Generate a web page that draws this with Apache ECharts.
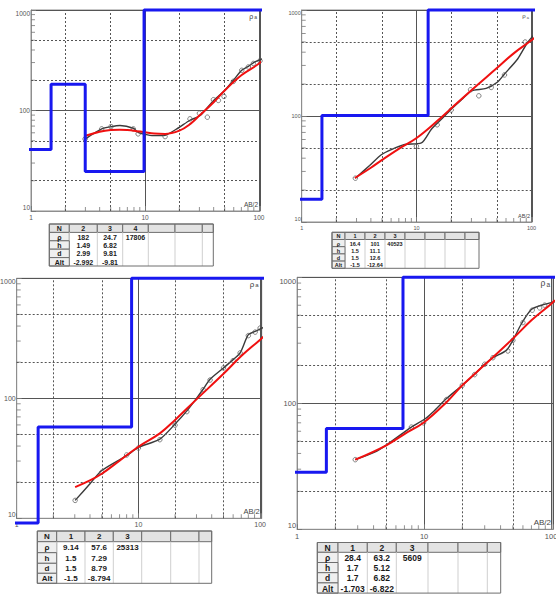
<!DOCTYPE html>
<html><head><meta charset="utf-8">
<script src="https://cdn.jsdelivr.net/npm/echarts@6/dist/echarts.min.js"></script>
<style>html,body{margin:0;padding:0;background:#fff}#c{width:556px;height:594px}</style>
</head><body><div id="c"></div>
<script>
// ---------- tick / grid values ----------
const xTickValues = [1, 10, 100];
const yTickValues = [10, 100, 1000];
const minorXTicks = [2,3,4,5,6,7,8,9,20,30,40,50,60,70,80,90];
const minorYTicks = [20,30,40,50,60,70,80,90,200,300,400,500,600,700,800,900];
const dashedX = [2, 5, 20, 50];
const dashedY = [20, 50, 200, 500];

// ---------- panel A (top left) ----------
const modelA = [[0.7,41],[1.5,41],[1.5,182],[2.99,182],[2.99,24.7],[9.81,24.7],[9.81,1000],[125,1000]];
const fitA = [[3,56],[4,61.5],[5,64],[6,64.5],[7,64],[8,63],[10,60.7],[12,59],[15,58.5],[20,63],[25,73.6],[30,89],[40,121],[50,158],[70,224],[100,293],[113,341]];
const obsA = [[2.98,52],[4.17,65.6],[5.03,69],[6.03,70.8],[7.9,66.6],[8.7,60.7],[10.3,57.5],[11.5,56.2],[14.5,56.2],[19,65.6],[24.8,80],[30.4,89],[40,126],[50,158],[59.6,200],[70.5,251],[80.6,275],[91.9,304],[109,329]];
const circlesA = [[2.98,52.1],[4.17,65.6],[5.03,69.2],[7.9,65.6],[8.7,58.5],[15,55],[24.8,82.6],[30,94],[35.2,85.8],[39.8,128],[44,126],[49.3,138],[59.6,195],[70.5,251],[80.6,271],[89.2,294],[102,312]];
const tableAHead = ['N','2','3','4'];
const tableARho = ['ρ','182','24.7','17806'];
const tableAH = ['h','1.49','6.82'];
const tableAD = ['d','2.99','9.81'];
const tableAAlt = ['Alt','-2.992','-9.81'];

// ---------- panel B (top right) ----------
const modelB = [[0.835,16.4],[1.5,16.4],[1.5,101],[12.6,101],[12.6,1000],[112,1000]];
const fitB = [[2.9,26],[4,32.5],[5,38.5],[7,49],[10,62],[15,89],[20,118],[30,175],[50,283],[70,390],[100,518],[113,578]];
const obsB = [[2.93,25.9],[3.9,34.1],[4.93,43.1],[6.02,48.2],[7.87,53.8],[11,55.7],[13.4,74.7],[16.4,93],[20,116],[25.3,146],[29.9,173],[40.3,182],[50.3,208],[58.2,249],[76,347],[93,499],[113,631]];
const circlesB = [[2.93,25.9],[9.95,51.8],[15.1,82.6],[20,114],[29.5,177],[34.8,155],[44.6,186],[58.2,244],[88,499]];
const tableBHead = ['N','1','2','3'];
const tableBRho = ['ρ','16.4','101','40523'];
const tableBH = ['h','1.5','11.1'];
const tableBD = ['d','1.5','12.6'];
const tableBAlt = ['Alt','-1.5','-12.64'];

// ---------- panel C (bottom left) ----------
const modelC = [[0.83,9.14],[1.5,9.14],[1.5,57.6],[8.79,57.6],[8.79,1000],[146,1000]];
const fitC = [[3.02,18.2],[4,20.7],[5,23.5],[7,30.2],[10,39.5],[15,51],[20,66],[30,98],[50,160],[70,225],[100,308],[113,345]];
const obsC = [[3.02,14.1],[4,19.4],[5,25],[8,33.3],[10,39],[15,45.7],[20,61],[25,78.5],[30,100],[34,119],[38.8,144],[50,179],[60,210],[68.5,239],[80,339],[91,361],[113,403]];
const circlesC = [[3.02,14.1],[5,24.2],[8,33.7],[10,38.5],[15,45.2],[20,59.7],[25,77.4],[34,118],[38.8,142],[50,179],[60,206],[68.5,239],[80,333],[91,356],[100,385]];
const tableCHead = ['N','1','2','3'];
const tableCRho = ['ρ','9.14','57.6','25313'];
const tableCH = ['h','1.5','7.29'];
const tableCD = ['d','1.5','8.79'];
const tableCAlt = ['Alt','-1.5','-8.794'];

// ---------- panel D (bottom right) ----------
const modelD = [[0.73,28.4],[1.7,28.4],[1.7,63.2],[6.82,63.2],[6.82,1000],[120,1000]];
const fitD = [[2.87,35.7],[5,46.2],[7,57],[10,70.8],[15,102],[20,139],[30,202],[50,326],[70,456],[100,615],[107,658]];
const obsD = [[2.87,35.7],[4.08,40.9],[5.2,47.7],[7.94,64.7],[10.2,75.4],[12.1,87.8],[15,109],[20,139],[25,170],[30,204],[34.8,230],[44.4,263],[50,316],[58.4,428],[69.8,555],[83.8,600],[107,638]];
const circlesD = [[2.87,35.7],[7.94,64.7],[9.9,70],[15,107],[20,139],[25,169],[30,204],[34.8,230],[45.7,260],[50,316],[60,437],[71,548],[81.3,572],[89,601]];
const tableDHead = ['N','1','2','3'];
const tableDRho = ['ρ','28.4','63.2','5609'];
const tableDH = ['h','1.7','5.12'];
const tableDD = ['d','1.7','6.82'];
const tableDAlt = ['Alt','-1.703','-6.822'];

// ---------- layout (positions / sizes only) ----------
const layouts = [
  {left:31,    top:10,    width:229,   height:201, xMax:102,   font:6.5, tagFont:6.5},
  {left:301.7, top:10,    width:230.3, height:212, xMax:101,   font:5.5, tagFont:5.5},
  {left:16.7,  top:278.3, width:245,   height:240, xMax:103,   font:7,   tagFont:7.5},
  {left:297.1, top:277.3, width:255.9, height:252, xMax:103.5, font:7.5, tagFont:8}
];
const tableLayouts = [
  {cols:[49.3,69.3,97.3,122.7,148.3,175,202.3,213.3], rows:[224,232.4,240.8,249.2,257.6,266], font:7},
  {cols:[332,345,365,385,405,425,445,465,479], rows:[232.3,239.5,246.7,253.9,261.1,268.3], font:5.5},
  {cols:[37.3,56.7,85,113.3,141.7,170.7,199,211.7], rows:[531,541.7,552.7,563.3,573.3,583.3], font:8},
  {cols:[317.3,338,367.3,396.3,428,458,487.3,500.7], rows:[542.5,552.3,562.5,572.7,582.9,593.1], font:8.5}
];

const panels = [
  {model:modelA, fit:fitA, obs:obsA, pts:circlesA, table:[tableAHead,tableARho,tableAH,tableAD,tableAAlt]},
  {model:modelB, fit:fitB, obs:obsB, pts:circlesB, table:[tableBHead,tableBRho,tableBH,tableBD,tableBAlt]},
  {model:modelC, fit:fitC, obs:obsC, pts:circlesC, table:[tableCHead,tableCRho,tableCH,tableCD,tableCAlt]},
  {model:modelD, fit:fitD, obs:obsD, pts:circlesD, table:[tableDHead,tableDRho,tableDH,tableDD,tableDAlt]}
];

const FONT = '"Liberation Sans", "DejaVu Sans", sans-serif';
const labelFmt = vals => v => {
  const m = vals.find(t => Math.abs(Math.log10(v) - Math.log10(t)) < 0.001);
  return m === undefined ? '' : String(m);
};

const grid = [], xAxis = [], yAxis = [], series = [], graphic = [];

panels.forEach((p, i) => {
  const L = layouts[i];
  grid.push({left:L.left, top:L.top, width:L.width, height:L.height, show:true,
    borderColor:'#8e8e8e', borderWidth:1, backgroundColor:'#fff', containLabel:false, outerBoundsMode:'none'});
  xAxis.push({type:'log', logBase:10, gridIndex:i, min:1, max:L.xMax,
    axisLine:{show:true, lineStyle:{color:'#8e8e8e'}},
    axisTick:{show:true, inside:true, length:5, lineStyle:{color:'#777'}},
    axisLabel:{fontSize:L.font, color:'#555', margin:3, fontFamily:FONT, formatter:labelFmt(xTickValues)},
    splitLine:{show:true, lineStyle:{color:'#555', width:1}}});
  yAxis.push({type:'log', logBase:10, gridIndex:i, min:10, max:1000,
    axisLine:{show:true, lineStyle:{color:'#8e8e8e'}},
    axisTick:{show:true, inside:true, length:5, lineStyle:{color:'#777'}},
    axisLabel:{fontSize:L.font, color:'#555', margin:1, fontFamily:FONT, formatter:labelFmt(yTickValues),
      verticalAlignMinLabel:'bottom', verticalAlignMaxLabel:'top'},
    splitLine:{show:true, lineStyle:{color:'#555', width:1}}});

  const dashStyle = {color:'#555', width:1, type:[2,2]};
  // minor ticks on bottom axis + vertical dashed grid
  series.push({type:'scatter', xAxisIndex:i, yAxisIndex:i, silent:true, clip:false, z:1,
    data: minorXTicks.filter(v => v < L.xMax).map(v => [v, 10]),
    symbol:'rect', symbolSize:[1,4], symbolOffset:[0,-2], itemStyle:{color:'#777'},
    markLine:{silent:true, symbol:'none', label:{show:false}, lineStyle:dashStyle, animation:false,
      data: dashedX.map(v => ({xAxis:v}))}});
  // minor ticks on left axis + horizontal dashed grid
  series.push({type:'scatter', xAxisIndex:i, yAxisIndex:i, silent:true, clip:false, z:1,
    data: minorYTicks.map(v => [1, v]),
    symbol:'rect', symbolSize:[4,1], symbolOffset:[2,0], itemStyle:{color:'#777'},
    markLine:{silent:true, symbol:'none', label:{show:false}, lineStyle:dashStyle, animation:false,
      data: dashedY.map(v => ({yAxis:v}))}});
  // measured curve
  series.push({type:'line', xAxisIndex:i, yAxisIndex:i, data:p.obs, showSymbol:false, clip:false, z:3,
    smooth:0.25, lineStyle:{color:'#3a3a3a', width:1.4}});
  // measured points
  series.push({type:'scatter', xAxisIndex:i, yAxisIndex:i, data:p.pts, clip:false, z:4,
    symbol:'circle', symbolSize:4.5, itemStyle:{color:'rgba(255,255,255,0)', borderColor:'#555', borderWidth:0.9}});
  // fitted curve
  series.push({type:'line', xAxisIndex:i, yAxisIndex:i, data:p.fit, showSymbol:false, clip:false, z:5,
    smooth:0.4, lineStyle:{color:'#f01010', width:2}});
  // layer model
  series.push({type:'line', xAxisIndex:i, yAxisIndex:i, data:p.model, showSymbol:false, clip:false, z:6,
    lineStyle:{color:'#1818f0', width:3}});

  // corner tags
  const right = L.left + L.width;
  graphic.push({type:'text', x:right - 3, y:L.top + 6, silent:true, z:10,
    style:{text:'{r|ρ}{s|a}', align:'right', verticalAlign:'middle',
      rich:{r:{fontSize:L.tagFont + 0.5, fontFamily:FONT, fill:'#444'}, s:{fontSize:L.tagFont - 1.5, fontFamily:FONT, fill:'#444', verticalAlign:'bottom', padding:[0,0,0,1]}}}});
  graphic.push({type:'text', x:right - 2, y:L.top + L.height - 3, silent:true, z:10,
    style:{text:'AB/2', align:'right', verticalAlign:'bottom', fontSize:L.tagFont, fontFamily:FONT, fill:'#444'}});

  // parameter table
  const T = tableLayouts[i];
  const nc = T.cols.length - 1;
  const rowsData = p.table;
  for (let r = 0; r < rowsData.length; r++) {
    const y0 = T.rows[r], y1 = T.rows[r+1];
    for (let c = 0; c < nc; c++) {
      const x0 = T.cols[c], x1 = T.cols[c+1];
      if (r === 0 || c === 0) {
        graphic.push({type:'rect', silent:true, z:10, shape:{x:x0, y:y0, width:x1-x0, height:y1-y0},
          style:{fill: r === 0 ? '#e3e3e3' : '#efefef', stroke:'#6e6e6e', lineWidth:1}});
      } else if (r === 1) {
        graphic.push({type:'line', silent:true, z:10, shape:{x1:x0, y1:y0, x2:x0, y2:T.rows[rowsData.length]},
          style:{stroke:'#cfcfcf', lineWidth:1}});
      }
      const txt = rowsData[r][c] || '';
      if (txt) {
        graphic.push({type:'text', silent:true, z:12, x:(x0+x1)/2, y:(y0+y1)/2 + 0.5,
          style:{text:txt, align:'center', verticalAlign:'middle', fontSize:T.font, fontWeight:'bold',
            fontFamily:FONT, fill:'#1a1a1a'}});
      }
    }
  }
  graphic.push({type:'rect', silent:true, z:11,
    shape:{x:T.cols[0], y:T.rows[0], width:T.cols[nc]-T.cols[0], height:T.rows[rowsData.length]-T.rows[0]},
    style:{fill:'none', stroke:'#6e6e6e', lineWidth:1}});
});

const chart = echarts.init(document.getElementById('c'), null, {renderer:'svg', width:556, height:594});
chart.setOption({animation:false, backgroundColor:'#fff', grid, xAxis, yAxis, series, graphic});
</script>
</body></html>
